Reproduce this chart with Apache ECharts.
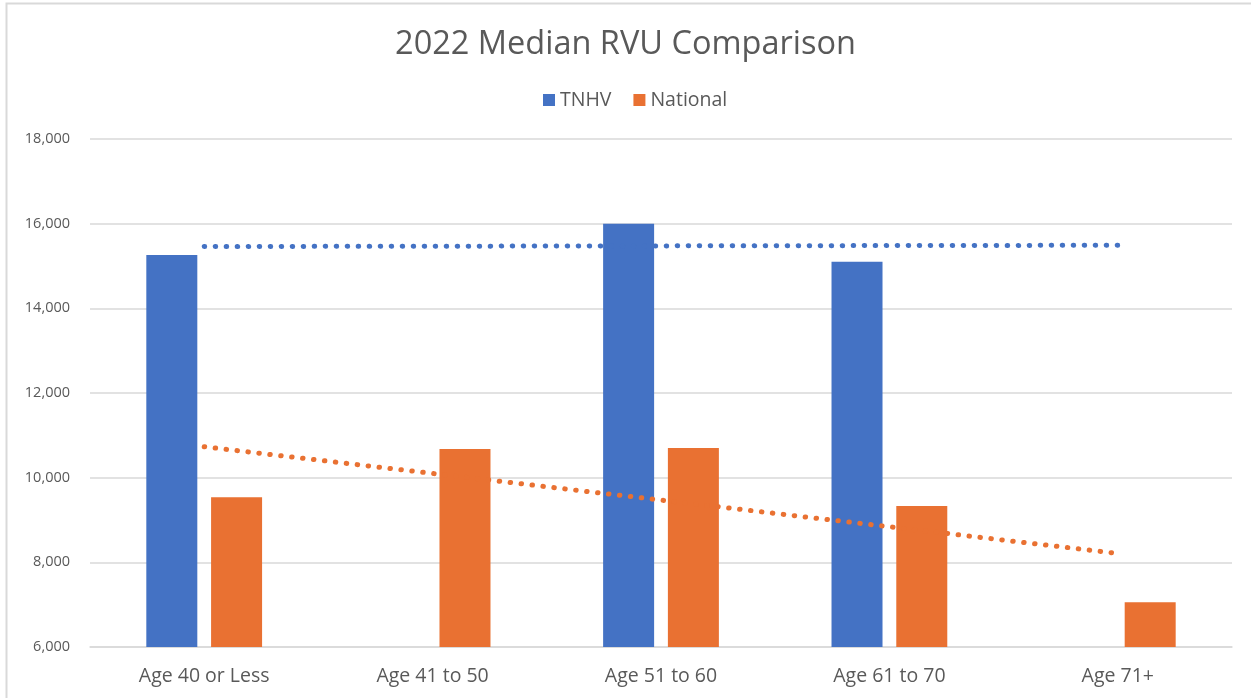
<!DOCTYPE html>
<html style="height: 100%">
<head>
<meta charset="UTF-8">
<title>2022 Median RVU Comparison</title>
<script src="https://cdn.jsdelivr.net/npm/echarts@6/dist/echarts.min.js"></script>
</head>
<body style="height: 100%; margin: 0; background: #fff">
<div id="container" style="width: 1251px; height: 698px"></div>
<script type="text/javascript">
// categories and values
var categories = ['Age 40 or Less', 'Age 41 to 50', 'Age 51 to 60', 'Age 61 to 70', 'Age 71+'];
var tnhv = [15260, null, 16000, 15100, null];
var national = [9540, 10680, 10700, 9330, 7060];
// linear trendlines (endpoints as drawn)
var tnhvTrend = [15460, null, null, null, 15490];
var nationalTrend = [10730, null, null, null, 8210];

var textColor = '#595959';
var gridColor = '#d9d9d9';
var fontFamily = '"Open Sans", "Noto Sans", sans-serif';

var myChart = echarts.init(document.getElementById('container'));

var option = {
    textStyle: { fontFamily: fontFamily },
    title: {
        text: '2022 Median RVU Comparison',
        left: 'center',
        top: 23,
        textStyle: { color: textColor, fontSize: 32.5, fontWeight: 'normal', fontFamily: fontFamily }
    },
    legend: {
        data: ['TNHV', 'National'],
        top: 85,
        left: 538,
        icon: 'rect',
        itemWidth: 12,
        itemHeight: 12,
        itemGap: 22,
        textStyle: { color: textColor, fontSize: 19.5, fontFamily: fontFamily }
    },
    grid: { left: 90, right: 19, top: 139, bottom: 51 },
    xAxis: {
        type: 'category',
        data: categories,
        axisLine: { lineStyle: { color: gridColor, width: 1.5 } },
        axisTick: { show: false },
        axisLabel: { color: textColor, fontSize: 19.5, margin: 19 }
    },
    yAxis: {
        type: 'value',
        min: 6000,
        max: 18000,
        interval: 2000,
        axisLabel: {
            color: textColor,
            fontSize: 14.5,
            margin: 20,
            formatter: function (v) { return v.toLocaleString('en-US'); }
        },
        splitLine: { lineStyle: { color: gridColor, width: 1.5 } }
    },
    //chart border
    graphic: [{
        type: 'rect',
        shape: { x: 6.5, y: 3.5, width: 1270, height: 720 },
        style: { fill: null, stroke: gridColor, lineWidth: 2 },
        silent: true
    }],
    series: [{
        name: 'TNHV',
        type: 'bar',
        data: tnhv,
        barWidth: 51,
        barGap: '27%',
        itemStyle: { color: '#4472C4' }
    }, {
        name: 'National',
        type: 'bar',
        data: national,
        barWidth: 51,
        itemStyle: { color: '#E97132' }
    }, {
        name: 'TNHV trend',
        type: 'line',
        data: tnhvTrend,
        connectNulls: true,
        symbol: 'none',
        lineStyle: { color: '#4472C4', width: 5, type: [0.5, 10.5], cap: 'round' },
        z: 5
    }, {
        name: 'National trend',
        type: 'line',
        data: nationalTrend,
        connectNulls: true,
        symbol: 'none',
        lineStyle: { color: '#E97132', width: 5, type: [0.5, 10.5], cap: 'round' },
        z: 5
    }]
};

myChart.setOption(option);
</script>
</body>
</html>
